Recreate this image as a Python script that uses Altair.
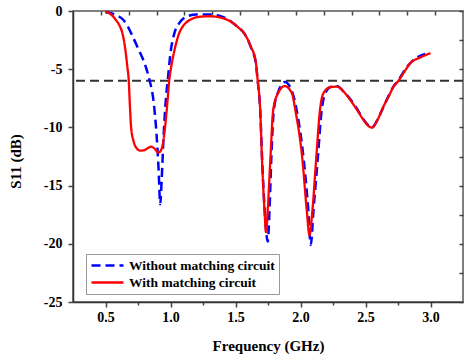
import altair as alt
import pandas as pd

# ---- data ----
freq_without = [0.50, 0.55, 0.60, 0.638, 0.67, 0.697, 0.75, 0.81, 0.84, 0.868, 0.892, 0.908, 0.921,
                0.932, 0.948, 0.965, 0.98, 1.00, 1.03, 1.07, 1.12, 1.20, 1.30, 1.38, 1.44, 1.465,
                1.52, 1.566, 1.618, 1.655, 1.67, 1.69, 1.705, 1.725, 1.748, 1.762, 1.775, 1.795,
                1.83, 1.88, 1.94, 1.97, 2.025, 2.06, 2.079, 2.10, 2.132, 2.163, 2.19, 2.235, 2.28,
                2.33, 2.385, 2.44, 2.49, 2.55, 2.59, 2.64, 2.715, 2.753, 2.80, 2.86, 2.92, 2.96]
s11_without = [-0.1, -0.2, -0.45, -0.77, -1.3, -1.9, -3.2, -4.8, -6.0, -7.6, -10.5, -13.5, -16.6,
               -14.5, -10.5, -7.5, -5.8, -3.6, -1.9, -1.0, -0.5, -0.3, -0.3, -0.42, -0.7, -0.9,
               -1.4, -1.9, -3.1, -4.4, -5.9, -8.5, -12.8, -17.2, -19.8, -17.0, -12.8, -8.5,
               -6.9, -6.1, -7.07, -8.5, -12.8, -17.1, -20.1, -17.1, -12.8, -8.5, -7.1, -6.5, -6.45,
               -6.9, -7.6, -8.5, -9.4, -10.0, -9.4, -8.2, -6.5, -5.95, -5.1, -4.3, -3.85, -3.7]

freq_with = [0.50, 0.53, 0.58, 0.61, 0.63, 0.653, 0.668, 0.679, 0.688, 0.697, 0.714, 0.74, 0.77,
             0.80, 0.83, 0.85, 0.875, 0.908, 0.925, 0.94, 0.958, 0.975, 0.99, 1.01, 1.03, 1.05,
             1.067, 1.09, 1.12, 1.16, 1.22, 1.30, 1.38, 1.43, 1.465, 1.52, 1.566, 1.618, 1.655,
             1.67, 1.69, 1.704, 1.723, 1.735, 1.748, 1.768, 1.79, 1.827, 1.88, 1.934, 1.96,
             2.015, 2.048, 2.069, 2.092, 2.12, 2.15, 2.176, 2.227, 2.28, 2.33, 2.383, 2.435,
             2.485, 2.52, 2.55, 2.59, 2.638, 2.68, 2.715, 2.753, 2.80, 2.843, 2.92, 3.00]
s11_with = [-0.05, -0.2, -0.77, -1.3, -1.9, -3.35, -4.8, -6.0, -8.2, -10.0, -11.1, -11.8, -12.0,
            -11.95, -11.75, -11.66, -11.8, -12.17, -12.0, -11.5, -10.0, -8.0, -6.0, -4.5, -3.4, -2.5,
            -1.9, -1.4, -1.0, -0.7, -0.5, -0.45, -0.55, -0.72, -0.92, -1.4, -1.9, -3.06, -4.3,
            -5.9, -8.5, -12.8, -17.1, -19.0, -17.1, -12.8, -8.5, -7.07, -6.45, -7.07, -8.5,
            -12.8, -17.1, -19.25, -17.1, -12.8, -8.5, -7.07, -6.55, -6.5, -6.9, -7.65, -8.5,
            -9.36, -9.85, -10.02, -9.4, -8.2, -7.3, -6.5, -6.0, -5.2, -4.5, -4.0, -3.62]

series_names = ["Without matching circuit", "With matching circuit"]
series_colors = ["#0000ff", "#ff0000"]
series_dashes = [[9, 5], [1, 0]]
threshold_db = -6

x_domain = [0.25, 3.25]
y_domain = [-25, 0]
x_tick_values = [0.5, 0.75, 1.0, 1.25, 1.5, 1.75, 2.0, 2.25, 2.5, 2.75, 3.0]
y_tick_values = [0, -2.5, -5, -7.5, -10, -12.5, -15, -17.5, -20, -22.5, -25]
top_domain = [0, 14]
top_tick_values = list(range(1, 14))

FONT = "Liberation Serif"

df = pd.concat([
    pd.DataFrame({"freq": freq_without, "s11": s11_without, "series": series_names[0]}),
    pd.DataFrame({"freq": freq_with, "s11": s11_with, "series": series_names[1]}),
], ignore_index=True)

major_x = "abs(datum.value*2 - round(datum.value*2)) < 0.001"
major_y = "datum.value % 5 == 0"

x_enc = alt.X(
    "freq:Q",
    scale=alt.Scale(domain=x_domain, nice=False, zero=False),
    axis=alt.Axis(
        orient="bottom", values=x_tick_values, grid=False,
        labelExpr=f"{major_x} ? format(datum.value, '.1f') : ''",
        tickSize={"condition": {"test": major_x, "value": 5}, "value": 3},
        labelPadding=3, title="Frequency (GHz)", titleY=43, titleBaseline="middle",
    ),
)
y_enc = alt.Y(
    "s11:Q",
    scale=alt.Scale(domain=y_domain, nice=False, zero=False),
    axis=alt.Axis(
        orient="left", values=y_tick_values, grid=False,
        labelExpr=f"{major_y} ? (datum.value == 0 ? '0' : '-' + (-datum.value)) : ''",
        tickSize={"condition": {"test": major_y, "value": 5}, "value": 3},
        labelPadding=6, title="S11 (dB)", titleX=-58, titleY=150, titleAngle=270,
        titleAlign="center", titleBaseline="middle",
    ),
)
color_enc = alt.Color(
    "series:N",
    scale=alt.Scale(domain=series_names, range=series_colors),
    legend=alt.Legend(
        title=None, orient="none", legendX=13, legendY=243, direction="vertical",
        symbolType="stroke", symbolSize=1024, symbolStrokeWidth=2.5, clipHeight=15,
        labelFont=FONT, labelFontWeight="bold", labelFontSize=13.5, labelColor="black",
        labelOffset=4, rowPadding=2, padding=4, fillColor="white", strokeColor="#999",
    ),
)
dash_enc = alt.StrokeDash(
    "series:N",
    scale=alt.Scale(domain=series_names, range=series_dashes),
    legend=alt.Legend(
        title=None, orient="none", legendX=13, legendY=243, direction="vertical",
        symbolType="stroke", symbolSize=1024, symbolStrokeWidth=2.5, clipHeight=15,
        labelFont=FONT, labelFontWeight="bold", labelFontSize=13.5, labelColor="black",
        labelOffset=4, rowPadding=2, padding=4, fillColor="white", strokeColor="#999",
    ),
)

rule = alt.Chart(pd.DataFrame({"t": [threshold_db]})).mark_rule(
    color="#333333", strokeWidth=2, strokeDash=[9, 5]
).encode(y=alt.Y("t:Q", scale=alt.Scale(domain=y_domain, nice=False, zero=False)))

blue = alt.Chart(df).transform_filter(alt.datum.series == series_names[0]).mark_line(
    strokeWidth=2.5, interpolate="monotone"
).encode(x=x_enc, y=y_enc, color=color_enc, strokeDash=dash_enc)

red = alt.Chart(df).transform_filter(alt.datum.series == series_names[1]).mark_line(
    strokeWidth=2.3, interpolate="monotone"
).encode(x=x_enc, y=y_enc, color=color_enc, strokeDash=dash_enc)

inner = alt.layer(rule, blue, red)

helper = alt.Chart(pd.DataFrame({"k": top_tick_values, "v": [y_domain[0]] * len(top_tick_values)})).mark_point(
    opacity=0
).encode(
    x=alt.X("k:Q", scale=alt.Scale(domain=top_domain, nice=False, zero=False),
            axis=alt.Axis(orient="top", values=top_tick_values, labels=False, title=None,
                          domain=False, grid=False, tickSize=4, offset=-4)),
    y=alt.Y("v:Q", scale=alt.Scale(domain=y_domain, nice=False, zero=False),
            axis=alt.Axis(orient="right", values=y_tick_values, labels=False, title=None,
                          domain=False, grid=False, tickSize=4, offset=-4)),
)

chart = alt.layer(inner, helper).resolve_scale(x="independent", y="independent").properties(
    width=390, height=291,
    autosize=alt.AutoSizeParams(type="none"),
    padding={"left": 73, "top": 11, "right": 1, "bottom": 58},
).configure_view(stroke="#555555", strokeWidth=1.5).configure_axis(
    labelFont=FONT, labelFontWeight="bold", labelFontSize=14, labelColor="black",
    titleFont=FONT, titleFontWeight="bold", titleFontSize=15, titleColor="black",
    domainColor="#333333", domainWidth=1.5, tickColor="#444444", tickWidth=1.5,
)

chart.save("out.html", embed_options={"renderer": "svg", "actions": False})
